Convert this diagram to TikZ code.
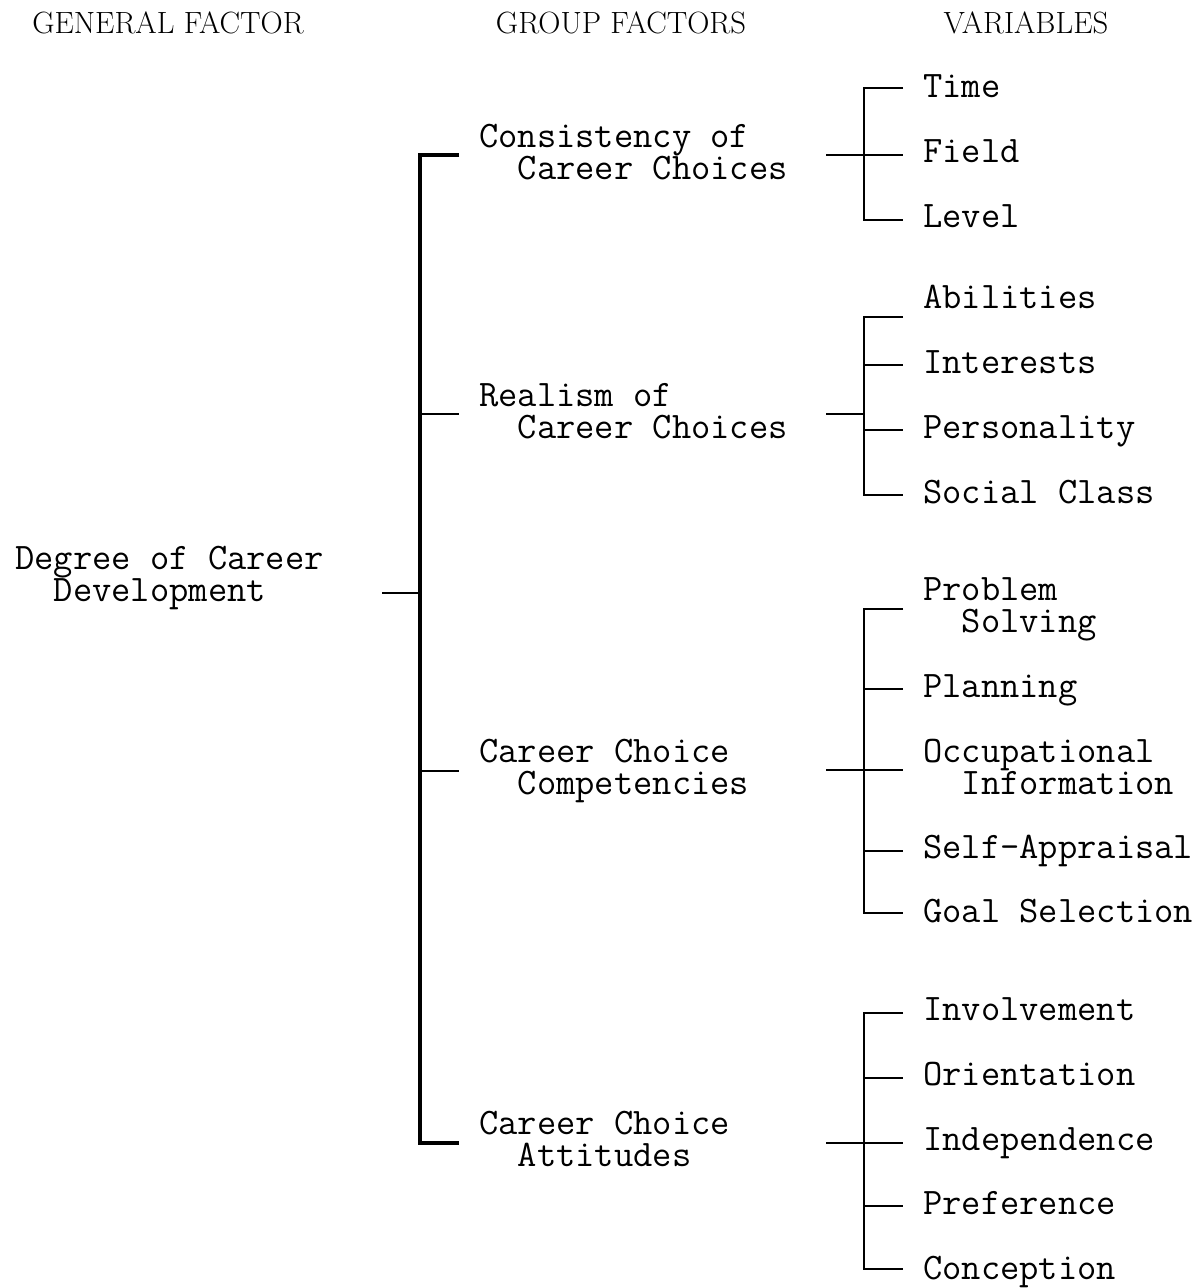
\documentclass[tikz,border=0pt]{standalone}
\usepackage{fontspec}
\usepackage{tikz}

\begin{document}
\begin{tikzpicture}[x=0.02cm,y=-0.02cm,line width=1.5pt,
    head/.style={anchor=base,inner sep=0pt,font=\rmfamily\fontsize{17.5}{20}\selectfont},
    item/.style={anchor=base west,inner sep=0pt,align=left,
      font=\ttfamily\fontsize{21.3}{18.2}\selectfont}]

\useasboundingbox (0,0) rectangle (1200,1288);

\node[head] (hgen) at (168,33) {GENERAL FACTOR};
\node[head] (hgrp) at (621,33) {GROUP FACTORS};
\node[head] (hvar) at (1026,33) {VARIABLES};

\node[item] (gen) at (14,601) {Degree of Career\\\phantom{De}Development};

\node[item] (cons) at (478,179) {Consistency of\\\phantom{Co}Career Choices};
\node[item] (real) at (478,438) {Realism of\\\phantom{Re}Career Choices};
\node[item] (comp) at (478,794) {Career Choice\\\phantom{Ca}Competencies};
\node[item] (att) at (478,1166) {Career Choice\\\phantom{Ca}Attitudes};

\node[item] (time) at (922,97) {Time};
\node[item] (field) at (922,162) {Field};
\node[item] (level) at (922,227) {Level};

\node[item] (abil) at (922,308) {Abilities};
\node[item] (inter) at (922,373) {Interests};
\node[item] (pers) at (922,438) {Personality};
\node[item] (soc) at (922,503) {Social Class};

\node[item] (prob) at (922,632) {Problem\\\phantom{Pr}Solving};
\node[item] (plan) at (922,697) {Planning};
\node[item] (occ) at (922,794) {Occupational\\\phantom{Oc}Information};
\node[item] (self) at (922,858) {Self-Appraisal};
\node[item] (goal) at (922,922) {Goal Selection};

\node[item] (inv) at (922,1020) {Involvement};
\node[item] (ori) at (922,1085) {Orientation};
\node[item] (ind) at (922,1150) {Independence};
\node[item] (pref) at (922,1214) {Preference};
\node[item] (conc) at (922,1279) {Conception};

% general factor to group factors
\coordinate (gstub) at (382,593);
\coordinate (gmid) at (420,593);
\draw (gstub) -- (gmid);
\draw[line width=1.8pt] (459,155) -- (420,155) -- (420,1143) -- (459,1143);
\draw (420,414) -- (459,414);
\draw (420,771) -- (459,771);

% consistency
\draw (826,155) -- (903,155);
\draw (903,88) -- (864,88) -- (864,220) -- (903,220);

% realism
\draw (826,414) -- (864,414);
\draw (903,317) -- (864,317) -- (864,495) -- (903,495);
\draw (864,365) -- (903,365);
\draw (864,430) -- (903,430);

% competencies
\draw (826,770) -- (903,770);
\draw (903,609) -- (864,609) -- (864,913) -- (903,913);
\draw (864,689) -- (903,689);
\draw (864,851) -- (903,851);

% attitudes
\draw (826,1143) -- (903,1143);
\draw (903,1013) -- (864,1013) -- (864,1269) -- (903,1269);
\draw (864,1078) -- (903,1078);
\draw (864,1206) -- (903,1206);

\end{tikzpicture}
\end{document}
